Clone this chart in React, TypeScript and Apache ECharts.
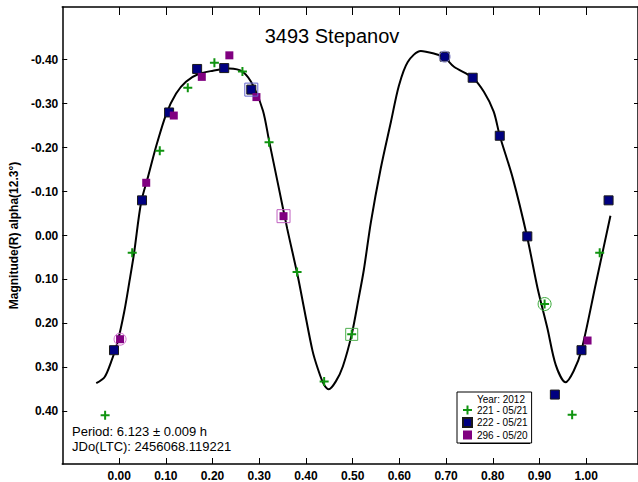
import React, { useEffect, useRef } from "react";
import * as echarts from "echarts";

const xTicks = [0, 0.1, 0.2, 0.3, 0.4, 0.5, 0.6, 0.7, 0.8, 0.9, 1.0];
const yTicks = [-0.4, -0.3, -0.2, -0.1, 0, 0.1, 0.2, 0.3, 0.4];

const fitCurve = [
  [-0.049, 0.336], [-0.031, 0.322], [-0.017, 0.287], [-0.003, 0.241], [0.011, 0.173],
  [0.022, 0.105], [0.032, 0.040], [0.047, -0.075], [0.062, -0.134], [0.079, -0.202],
  [0.101, -0.277], [0.122, -0.323], [0.143, -0.350], [0.171, -0.368], [0.201, -0.375],
  [0.236, -0.380], [0.265, -0.372], [0.287, -0.341], [0.308, -0.284], [0.321, -0.216],
  [0.340, -0.118], [0.360, -0.015], [0.383, 0.095], [0.396, 0.166], [0.414, 0.262],
  [0.426, 0.305], [0.438, 0.338], [0.449, 0.350], [0.464, 0.332], [0.479, 0.298],
  [0.498, 0.225], [0.513, 0.142], [0.524, 0.078], [0.539, -0.030], [0.560, -0.152],
  [0.582, -0.259], [0.599, -0.341], [0.618, -0.395], [0.646, -0.420], [0.674, -0.414],
  [0.697, -0.405], [0.717, -0.384], [0.757, -0.359], [0.781, -0.327], [0.802, -0.282],
  [0.815, -0.227], [0.843, -0.130], [0.874, 0.005], [0.896, 0.120], [0.917, 0.211],
  [0.935, 0.295], [0.956, 0.334], [0.973, 0.309], [0.990, 0.261], [1.021, 0.108],
  [1.052, -0.045],
];

const session221 = [
  [-0.030, 0.409], [0.028, 0.039], [0.087, -0.193], [0.147, -0.336], [0.204, -0.393],
  [0.264, -0.373], [0.321, -0.212], [0.381, 0.083], [0.439, 0.332], [0.498, 0.225],
  [0.911, 0.156], [0.970, 0.408], [1.029, 0.039],
];
const session222 = [
  [-0.011, 0.261], [0.049, -0.080], [0.107, -0.280], [0.167, -0.379], [0.225, -0.381],
  [0.283, -0.332], [0.697, -0.407], [0.757, -0.359], [0.815, -0.227], [0.874, 0.002],
  [0.933, 0.362], [0.990, 0.261], [1.048, -0.080],
];
const session296 = [
  [0.002, 0.236], [0.058, -0.120], [0.117, -0.273], [0.177, -0.361], [0.236, -0.410],
  [0.294, -0.315], [0.352, -0.044], [1.003, 0.239],
];

const circled221 = [[0.911, 0.156]];
const boxed221 = [[0.498, 0.225]];
const circled222 = [[0.697, -0.407]];
const boxed222 = [[0.283, -0.332]];
const circled296 = [[0.002, 0.236]];
const boxed296 = [[0.352, -0.044]];

const names = ["221 - 05/21", "222 - 05/21", "296 - 05/20"];
const titleText = "3493 Stepanov";
const yName = "Magnitude(R) alpha(12.3°)";
const periodText = "Period: 6.123 ± 0.009 h";
const jdText = "JDo(LTC): 2456068.119221";
const yearText = "Year: 2012";

const FONT = 'Arial, "Liberation Sans", sans-serif';
const GREEN = "#109410";
const NAVY = "#000080";
const PURPLE = "#800080";
const plusPath = "path://M3.5,0H5.5V3.5H9V5.5H5.5V9H3.5V5.5H0V3.5H3.5Z";

const XMIN = -0.1218;
const XMAX = 1.111;
const YMIN = -0.52;
const YMAX = 0.52;

function ring(data: number[][], symbol: string, size: number, color: string) {
  return {
    type: "scatter",
    data,
    symbol,
    symbolSize: size,
    silent: true,
    z: 4,
    itemStyle: { color: "rgba(0,0,0,0)", borderColor: color, borderWidth: 1, opacity: 1 },
  };
}

export default function App() {
  const ref = useRef<HTMLDivElement>(null);
  useEffect(() => {
    if (!ref.current) return;
    const chart = echarts.init(ref.current, undefined, { renderer: "svg" });
    const fmt = (v: number) => v.toFixed(2);
    const axisLine = { show: true, onZero: false, lineStyle: { color: "#000", width: 1.5 } };
    chart.setOption({
      animation: false,
      backgroundColor: "#fff",
      grid: { left: 61, top: 7, right: 0, bottom: 16 },
      xAxis: [
        {
          type: "value", min: XMIN, max: XMAX, position: "bottom",
          axisLine,
          axisTick: { show: true, inside: true, length: 6, customValues: xTicks, lineStyle: { color: "#000" } },
          axisLabel: { customValues: xTicks, formatter: fmt, fontFamily: FONT, fontWeight: "bold", fontSize: 12, color: "#000", margin: 6 },
          splitLine: { show: false },
        },
        {
          type: "value", min: XMIN, max: XMAX, position: "top",
          axisLine,
          axisTick: { show: true, inside: true, length: 8, customValues: xTicks, lineStyle: { color: "#000" } },
          axisLabel: { show: false },
          splitLine: { show: false },
        },
      ],
      yAxis: [
        {
          type: "value", min: YMIN, max: YMAX, inverse: true, position: "left",
          axisLine,
          axisTick: { show: true, inside: true, length: 5, customValues: yTicks, lineStyle: { color: "#000" } },
          axisLabel: { customValues: yTicks, formatter: fmt, fontFamily: FONT, fontWeight: "bold", fontSize: 12, color: "#000", margin: 4 },
          splitLine: { show: false },
          name: yName,
          nameLocation: "middle",
          nameGap: 40,
          nameTextStyle: { fontFamily: FONT, fontWeight: "bold", fontSize: 12, color: "#000" },
        },
        {
          type: "value", min: YMIN, max: YMAX, inverse: true, position: "right",
          axisLine,
          axisTick: { show: true, inside: true, length: 4, customValues: yTicks, lineStyle: { color: "#000" } },
          axisLabel: { show: false },
          splitLine: { show: false },
        },
      ],
      legend: {
        orient: "vertical",
        left: 457,
        top: 392,
        data: names,
        padding: [13, 4, 3, 5],
        itemGap: 2,
        itemWidth: 9,
        itemHeight: 9,
        backgroundColor: "#fff",
        borderColor: "#000",
        borderWidth: 1,
        borderRadius: 0,
        textStyle: { fontFamily: FONT, fontSize: 10, color: "#000", lineHeight: 10 },
        z: 6,
      },
      graphic: [
        { type: "rect", left: 460, top: 395, shape: { width: 70, height: 49 }, style: { fill: "#000" }, z: 5 },
        { type: "text", x: 525, y: 399, z: 10, style: { text: yearText, fill: "#000", font: `10px ${FONT}`, textAlign: "right", textVerticalAlign: "middle" } },
        { type: "text", x: 332, y: 36, style: { text: titleText, fill: "#000", font: `20px ${FONT}`, textAlign: "center", textVerticalAlign: "middle" } },
        { type: "text", x: 72, y: 431, style: { text: periodText, fill: "#000", font: `13px ${FONT}`, textAlign: "left", textVerticalAlign: "middle" } },
        { type: "text", x: 72, y: 446, style: { text: jdText, fill: "#000", font: `13px ${FONT}`, textAlign: "left", textVerticalAlign: "middle" } },
      ],
      series: [
        {
          type: "line",
          data: fitCurve,
          smooth: 0.3,
          showSymbol: false,
          silent: true,
          z: 2,
          lineStyle: { color: "#000", width: 2 },
        },
        {
          name: names[0], type: "scatter", data: session221, symbol: plusPath, symbolSize: 9, z: 3,
          itemStyle: { color: GREEN, opacity: 1 },
        },
        {
          name: names[1], type: "scatter", data: session222, symbol: "rect", symbolSize: 9, z: 3,
          itemStyle: { color: NAVY, borderColor: "#1a1a1a", borderWidth: 1, opacity: 1 },
        },
        {
          name: names[2], type: "scatter", data: session296, symbol: "rect", symbolSize: 8, z: 3,
          itemStyle: { color: PURPLE, opacity: 1 },
        },
        ring(circled221, "circle", 13, "#3aaa3a"),
        ring(boxed221, "rect", 12, "#4fb04f"),
        ring(circled222, "circle", 11, "#8888cc"),
        ring(boxed222, "rect", 13, "#6666cc"),
        ring(circled296, "circle", 12, "#d070d0"),
        ring(boxed296, "rect", 13, "#c060c0"),
      ],
    });
    return () => chart.dispose();
  }, []);
  return (
    <div
      ref={ref}
      style={{ position: "absolute", left: 0, top: 0, width: 638, height: 482, background: "#fff" }}
    />
  );
}
